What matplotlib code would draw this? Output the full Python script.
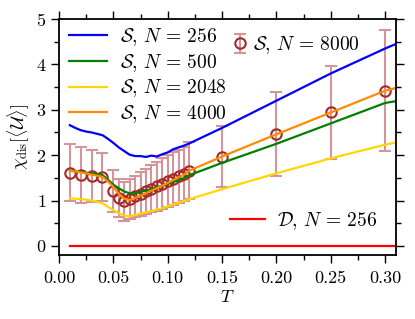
import numpy as np
import matplotlib
matplotlib.use("Agg")
import matplotlib.pyplot as plt
from matplotlib.ticker import MultipleLocator, FormatStrFormatter

plt.rcParams["font.family"] = "serif"
plt.rcParams["font.serif"] = ["cmr10"]
plt.rcParams["mathtext.fontset"] = "cm"
plt.rcParams["axes.formatter.use_mathtext"] = True
plt.rcParams["font.size"] = 13

# temperature grid of the N=256..4000 curves
t_line = [0.01, 0.015, 0.02, 0.025, 0.03, 0.035, 0.04, 0.045, 0.05, 0.055, 0.06,
          0.065, 0.07, 0.075, 0.08, 0.085, 0.09, 0.095, 0.10, 0.105, 0.11, 0.115,
          0.12, 0.15, 0.20, 0.25, 0.30, 0.31]
s_256 = [2.66, 2.60, 2.55, 2.52, 2.50, 2.47, 2.44, 2.36, 2.27, 2.17, 2.09,
         2.01, 1.98, 1.98, 1.96, 1.99, 1.97, 2.02, 2.06, 2.13, 2.17, 2.21,
         2.26, 2.60, 3.20, 3.80, 4.35, 4.45]
s_500 = [1.66, 1.64, 1.63, 1.61, 1.60, 1.58, 1.56, 1.46, 1.35, 1.27, 1.20,
         1.16, 1.16, 1.19, 1.22, 1.25, 1.29, 1.33, 1.37, 1.41, 1.45, 1.49,
         1.56, 1.83, 2.25, 2.70, 3.15, 3.19]
s_2048 = [1.05, 1.04, 1.03, 1.02, 1.00, 0.97, 0.94, 0.86, 0.79, 0.72, 0.67,
          0.65, 0.68, 0.71, 0.74, 0.77, 0.80, 0.83, 0.87, 0.91, 0.95, 0.99,
          1.03, 1.25, 1.60, 1.93, 2.23, 2.28]
s_4000 = [1.66, 1.64, 1.62, 1.60, 1.57, 1.55, 1.52, 1.42, 1.30, 1.15, 1.04,
          1.01, 1.06, 1.11, 1.16, 1.22, 1.27, 1.33, 1.39, 1.45, 1.51, 1.57,
          1.66, 1.97, 2.46, 2.94, 3.42, 3.48]
d_256 = [0.0] * len(t_line)

# N=8000 with error bars
t_8000 = [0.01, 0.02, 0.03, 0.04, 0.05, 0.055, 0.06, 0.065, 0.07, 0.075, 0.08,
          0.085, 0.09, 0.095, 0.10, 0.105, 0.11, 0.115, 0.12, 0.15, 0.20, 0.25, 0.30]
s_8000 = [1.61, 1.57, 1.54, 1.51, 1.21, 1.06, 0.98, 1.03, 1.09, 1.15, 1.20,
          1.26, 1.32, 1.37, 1.43, 1.48, 1.53, 1.59, 1.66, 1.97, 2.46, 2.94, 3.42]
err_8000 = [0.63, 0.62, 0.58, 0.53, 0.46, 0.42, 0.42, 0.44, 0.46, 0.48, 0.50,
            0.52, 0.54, 0.56, 0.57, 0.58, 0.59, 0.60, 0.62, 0.68, 0.93, 1.02, 1.33]

fig = plt.figure(figsize=(4.15, 3.19), dpi=100)
ax = fig.add_axes([59 / 415, 64 / 319, 337 / 415, 236 / 319])

eb = ax.errorbar(t_8000, s_8000, yerr=err_8000, fmt="o", ms=7.5, mfc="none",
                 mec="#a52a2a", mew=1.5, ecolor="#d4959a", elinewidth=1.5,
                 capsize=4, capthick=1.5, zorder=1,
                 label=r"$\mathcal{S},\,N\,=\,8000$")
l1, = ax.plot(t_line, s_256, color="#0000ff", lw=1.6, label=r"$\mathcal{S},\,N\,=\,256$")
l2, = ax.plot(t_line, s_500, color="#008000", lw=1.6, label=r"$\mathcal{S},\,N\,=\,500$")
l3, = ax.plot(t_line, s_2048, color="#ffd700", lw=1.6, label=r"$\mathcal{S},\,N\,=\,2048$")
l4, = ax.plot(t_line, s_4000, color="#ff8c00", lw=1.6, label=r"$\mathcal{S},\,N\,=\,4000$")
l5, = ax.plot(t_line, d_256, color="#ff0000", lw=1.6, label=r"$\mathcal{D},\,N\,=\,256$")

ax.set_xlim(0, 0.31)
ax.set_ylim(-0.2, 5)
ax.xaxis.set_major_locator(MultipleLocator(0.05))
ax.xaxis.set_minor_locator(MultipleLocator(0.025))
ax.xaxis.set_major_formatter(FormatStrFormatter("%.2f"))
ax.yaxis.set_major_locator(MultipleLocator(1))
ax.yaxis.set_minor_locator(MultipleLocator(0.5))
ax.tick_params(which="both", direction="out", top=True, right=True, labelsize=13)
ax.tick_params(which="major", length=5.5, width=1)
ax.tick_params(which="minor", length=3.5, width=1)
ax.tick_params(axis="x", which="major", pad=6)
for s in ax.spines.values():
    s.set_linewidth(1.3)

ax.set_xlabel(r"$T$", fontsize=13, labelpad=2)
ax.set_ylabel(r"$\chi_{\rm dis}[\langle \mathcal{U} \rangle]$", fontsize=13, labelpad=3)

leg1 = ax.legend(handles=[l1, l2, l3, l4], loc="upper left", frameon=False,
                 bbox_to_anchor=(0.0065, 1.004), handlelength=1.96, handletextpad=0.67,
                 labelspacing=0.2, borderaxespad=0, fontsize=14)
ax.add_artist(leg1)
leg2 = ax.legend(handles=[eb], loc="upper left", frameon=False,
                 bbox_to_anchor=(0.491, 0.968), handlelength=0.8, handletextpad=0.27,
                 borderaxespad=0, fontsize=14)
ax.add_artist(leg2)
ax.legend(handles=[l5], loc="center left", frameon=False,
          bbox_to_anchor=(0.484, 0.145), handlelength=1.8, handletextpad=0.62,
          borderaxespad=0, fontsize=14)

fig.savefig("out.png", dpi=100)
